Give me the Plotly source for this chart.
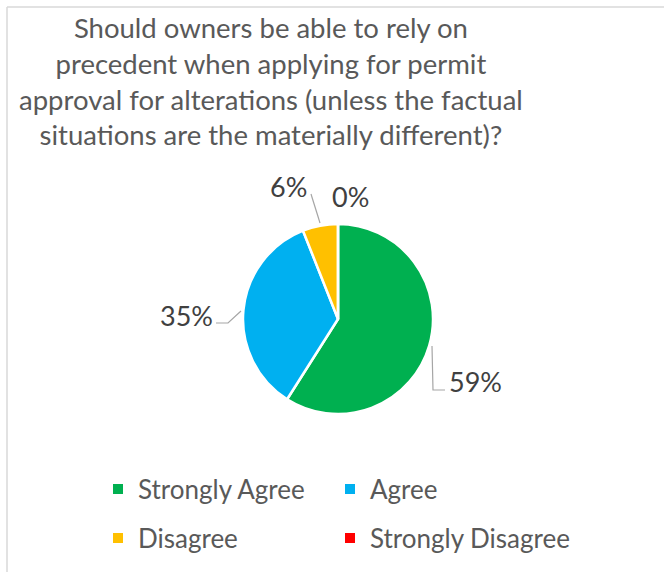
import plotly.graph_objects as go

# Survey responses (percent of respondents)
categories = ["Strongly Agree", "Agree", "Disagree", "Strongly Disagree"]
shares = [59, 35, 6, 0]
colors = ["#00B050", "#00B0F0", "#FFC000", "#FF0000"]

title_lines = [
    "Should owners be able to rely on",
    "precedent when applying for permit",
    "approval for alterations (unless the factual",
    "situations are the materially different)?",
]

W, H = 664, 572
FONT = "Lato"
TEXT = "#595959"
LABEL = "#404040"
LEADER = "#A6A6A6"


def px(x):
    return x / W


def py(y):
    return 1 - y / H


fig = go.Figure()

# Pie centred at (338, 319) px with a 95 px radius
cx, cy, r = 338, 319, 95
fig.add_trace(go.Pie(
    labels=categories,
    values=shares,
    marker=dict(colors=colors, line=dict(color="white", width=2.5)),
    sort=False,
    direction="clockwise",
    rotation=0,
    textinfo="none",
    hoverinfo="label+percent",
    showlegend=False,
    domain=dict(x=[px(cx - r), px(cx + r)], y=[py(cy + r), py(cy - r)]),
))

# Legend laid out as a 2x2 grid: one legend box per entry
legend_ids = ["legend", "legend2", "legend3", "legend4"]
grid_x = [98, 330]
grid_y = [489, 538]
for i, (name, col) in enumerate(zip(categories, colors)):
    fig.add_trace(go.Scatter(
        x=[None], y=[None], mode="markers", name=name,
        marker=dict(symbol="square", size=10, color=col),
        legend=legend_ids[i],
        hoverinfo="skip",
    ))

legend_layout = {}
for i, lid in enumerate(legend_ids):
    legend_layout[lid] = dict(
        x=px(grid_x[i % 2]), y=py(grid_y[i // 2]),
        orientation="h", xanchor="left", yanchor="middle",
        font=dict(family=FONT, size=26, color=TEXT),
        bgcolor="rgba(0,0,0,0)",
        itemclick=False, itemdoubleclick=False,
    )

# Percentage labels with their leader lines
label_pos = [(475, 381), (186, 315), (288, 186), (350, 196)]
annotations = []
for v, (lx, ly) in zip(shares, label_pos):
    annotations.append(dict(
        x=px(lx), y=py(ly), xref="paper", yref="paper",
        xanchor="center", yanchor="middle",
        text=f"{v}%", showarrow=False,
        font=dict(family=FONT, size=27, color=LABEL),
    ))

annotations.append(dict(
    x=px(271), y=py(81), xref="paper", yref="paper",
    xanchor="center", yanchor="middle",
    text="<br>".join(title_lines), showarrow=False, align="center",
    font=dict(family=FONT, size=27.5, color=TEXT),
))

leaders = [
    [(432, 346), (433, 390), (445, 390)],
    [(216, 323), (228, 323), (241, 311)],
    [(311, 194), (320, 223)],
]
shapes = []
for pts in leaders:
    path = "M " + " L ".join(f"{px(x)},{py(y)}" for x, y in pts)
    shapes.append(dict(type="path", path=path, xref="paper", yref="paper",
                       line=dict(color=LEADER, width=1.2)))

# Chart area border (top and left edges visible)
shapes.append(dict(type="line", xref="paper", yref="paper",
                   x0=px(7), y0=py(7), x1=1.02, y1=py(7),
                   line=dict(color="#D9D9D9", width=1.5)))
shapes.append(dict(type="line", xref="paper", yref="paper",
                   x0=px(7), y0=py(7), x1=px(7), y1=-0.02,
                   line=dict(color="#D9D9D9", width=1.5)))

fig.update_layout(
    width=W, height=H,
    margin=dict(l=0, r=0, t=0, b=0),
    paper_bgcolor="white", plot_bgcolor="white",
    xaxis=dict(visible=False), yaxis=dict(visible=False),
    annotations=annotations,
    shapes=shapes,
    **legend_layout,
)

fig.write_html("out.html")
